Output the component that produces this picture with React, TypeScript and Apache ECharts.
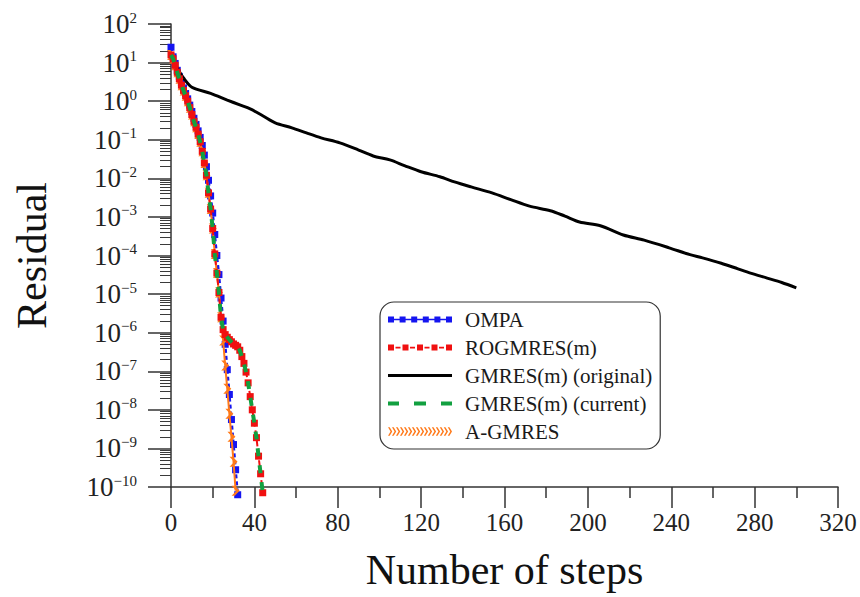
import React, { useEffect, useRef } from "react";
import * as echarts from "echarts";

const SERIF = "'Liberation Serif', 'Times New Roman', serif";

const seriesNames = ["OMPA", "ROGMRES(m)", "GMRES(m) (original)", "GMRES(m) (current)", "A-GMRES"];

const xTickValues = [0, 40, 80, 120, 160, 200, 240, 280, 320];

// residual per step (step index = array index)
const ompaValues = [
  25, 14.1, 9.5, 6.3, 4.4, 3.0, 2.2, 1.58, 1.15, 0.79, 0.54, 0.36, 0.25, 0.17, 0.115, 0.071,
  0.04, 0.02, 0.0089, 0.0035, 0.00126, 3.5e-4, 1.0e-4, 3.2e-5, 7.9e-6, 2.0e-6, 5.0e-7, 1.1e-7,
  2.5e-8, 5.6e-9, 1.26e-9, 2.8e-10, 6.3e-11,
];

const aGmresValues = [
  15.8, 12.6, 8.5, 5.6, 3.8, 2.6, 1.9, 1.38, 1.0, 0.68, 0.45, 0.3, 0.21, 0.14, 0.089, 0.05,
  0.025, 0.012, 0.0042, 0.0016, 5.0e-4, 1.1e-4, 3.5e-5, 1.1e-5, 2.5e-6, 6.3e-7, 1.4e-7, 3.5e-8,
  7.9e-9, 2.0e-9, 4.5e-10, 8.0e-11,
];

const rogmresValues = [
  15.8, 12.6, 8.5, 5.6, 3.8, 2.6, 1.9, 1.38, 1.0, 0.68, 0.45, 0.3, 0.21, 0.14, 0.089, 0.05,
  0.025, 0.012, 0.0042, 0.0016, 5.0e-4, 1.1e-4, 3.5e-5, 1.1e-5, 2.5e-6, 1.2e-6, 8.9e-7, 7.6e-7,
  6.6e-7, 5.8e-7, 5.1e-7, 4.7e-7, 4.3e-7, 3.5e-7, 2.4e-7, 1.6e-7, 9.5e-8, 5.0e-8, 2.2e-8, 1.0e-8,
  4.5e-9, 1.9e-9, 6.3e-10, 2.2e-10, 7.1e-11,
];

const gmresCurrentValues = [
  15.8, 12.6, 8.5, 5.6, 3.8, 2.6, 1.9, 1.38, 1.0, 0.68, 0.45, 0.3, 0.21, 0.14, 0.089, 0.05,
  0.025, 0.012, 0.0042, 0.0016, 5.0e-4, 1.1e-4, 3.5e-5, 1.1e-5, 2.5e-6, 1.2e-6, 8.9e-7, 7.6e-7,
  6.6e-7, 5.8e-7, 5.1e-7, 4.7e-7, 4.3e-7, 3.5e-7, 2.4e-7, 1.6e-7, 9.5e-8, 5.0e-8, 2.2e-8, 1.0e-8,
  4.5e-9, 1.9e-9, 6.3e-10, 2.2e-10, 7.1e-11,
];

// GMRES(m) original: sampled steps and residuals
const gmresOrigSteps = [
  0, 2, 6, 10, 19, 27, 33, 38, 44, 50, 58, 65, 72, 81, 90, 97, 105, 112, 120, 129, 136, 144,
  154, 163, 172, 182, 189, 196, 206, 217, 227, 239, 249, 255, 264, 272, 278, 286, 293, 300,
];
const gmresOrigValues = [
  11.2, 8.7, 4.0, 2.3, 1.6, 1.07, 0.8, 0.63, 0.42, 0.275, 0.204, 0.15, 0.112, 0.083, 0.054,
  0.038, 0.03, 0.0214, 0.0148, 0.011, 0.0081, 0.006, 0.0042, 0.0028, 0.0019, 0.00145, 0.00105,
  7.4e-4, 5.9e-4, 3.4e-4, 2.5e-4, 1.58e-4, 1.05e-4, 8.7e-5, 6.3e-5, 4.5e-5, 3.5e-5, 2.6e-5,
  2.0e-5, 1.45e-5,
];

const yMinorMultipliers = [2, 3, 4, 5, 6, 7, 8, 9];
const yDecades = [-10, -9, -8, -7, -6, -5, -4, -3, -2, -1, 0, 1];

const COLORS = {
  ompa: "#1515f0",
  rog: "#f01010",
  orig: "#000000",
  cur: "#12a040",
  agm: "#ff7a1a",
};

const GRID = { left: 171, right: 22, top: 24, bottom: 110 };
const CHART_W = 860;
const MINOR_TICK_PX = 11;

function squaresPath(): string {
  let d = "M0 6.3 H64 V7.7 H0 Z";
  [0, 11.6, 23.2, 34.8, 46.4, 58].forEach((x) => {
    d += ` M${x} 4 h6 v6 h-6 Z`;
  });
  return "path://" + d;
}
function redPath(): string {
  let d = "";
  [0, 14.5, 29, 43.5, 58].forEach((x) => {
    d += ` M${x} 4 h6 v6 h-6 Z`;
  });
  [7.5, 22, 36.5, 51].forEach((x) => {
    d += ` M${x} 6.2 h5 v1.8 h-5 Z`;
  });
  return "path://" + d.trim();
}
function chevronPath(): string {
  let d = "";
  for (let i = 0; i < 16; i++) {
    const x = i * 3.75;
    d += ` M${x} 1 L${x + 1.6} 1 L${x + 4} 5 L${x + 1.6} 9 L${x} 9 L${x + 2.4} 5 Z`;
  }
  return "path://" + d.trim();
}

const chevronSymbol = "path://M0 0 L4 0 L10 6 L4 12 L0 12 L6 6 Z";

export default function App() {
  const ref = useRef<HTMLDivElement>(null);

  useEffect(() => {
    if (!ref.current) return;
    const chart = echarts.init(ref.current, undefined, { renderer: "svg" });

    const expFmt = (v: number) => {
      const e = Math.round(Math.log10(v));
      const s = e < 0 ? "\u2212" + String(-e) : String(e);
      return `{b|10}{s|${s}}`;
    };

    const xMin = xTickValues[0];
    const xMax = xTickValues[xTickValues.length - 1];
    const plotW = CHART_W - GRID.left - GRID.right;
    const tickLenData = (MINOR_TICK_PX * (xMax - xMin)) / plotW;

    const minorValues: number[] = [];
    yDecades.forEach((e) => {
      yMinorMultipliers.forEach((m) => {
        minorValues.push(m * Math.pow(10, e));
      });
    });
    const minorTickMarkLines = minorValues.map((v) => [
      { coord: [xMin - tickLenData, v] },
      { coord: [xMin, v] },
    ]);

    const option: any = {
      animation: false,
      grid: { ...GRID, containLabel: false },
      legend: {
        orient: "vertical",
        left: 380,
        top: 302,
        padding: [6, 8, 6, 8],
        itemGap: 5,
        itemWidth: 64,
        itemHeight: 14,
        symbolKeepAspect: true,
        borderColor: "#333",
        borderWidth: 1.2,
        borderRadius: 14,
        backgroundColor: "#fff",
        textStyle: {
          fontFamily: SERIF,
          fontSize: 21,
          color: "#1a1a1a",
          lineHeight: 23,
          padding: [0, 0, 0, 8],
        },
        data: [
          { name: seriesNames[0], icon: squaresPath(), itemStyle: { color: COLORS.ompa, borderWidth: 0 } },
          { name: seriesNames[1], icon: redPath(), itemStyle: { color: COLORS.rog, borderWidth: 0 } },
          { name: seriesNames[2], icon: "path://M0 0 H64 V3 H0 Z", itemStyle: { color: COLORS.orig, borderWidth: 0 } },
          {
            name: seriesNames[3],
            icon: "path://M0 0 H11 V4 H0 Z M26 0 H38 V4 H26 Z M53 0 H64 V4 H53 Z",
            itemStyle: { color: COLORS.cur, borderWidth: 0 },
          },
          { name: seriesNames[4], icon: chevronPath(), itemStyle: { color: COLORS.agm, borderWidth: 0 } },
        ],
      },
      xAxis: {
        type: "value",
        min: xMin,
        max: xMax,
        interval: 40,
        name: "Number of steps",
        nameLocation: "middle",
        nameGap: 62,
        nameTextStyle: { fontFamily: SERIF, fontSize: 42, color: "#111" },
        axisLine: { show: true, lineStyle: { color: "#333", width: 1.5 } },
        axisTick: { show: true, inside: false, length: 21, lineStyle: { color: "#333", width: 1.5 } },
        minorTick: { show: true, splitNumber: 2, length: 11, lineStyle: { color: "#333", width: 1.5 } },
        splitLine: { show: false },
        axisLabel: { fontFamily: SERIF, fontSize: 25, color: "#222", margin: 23 },
      },
      yAxis: [
        {
          type: "log",
          logBase: 10,
          min: 1e-10,
          max: 100,
          interval: 1,
          name: "Residual",
          nameLocation: "middle",
          nameGap: 118,
          nameTextStyle: { fontFamily: SERIF, fontSize: 42, color: "#111" },
          axisLine: { show: true, lineStyle: { color: "#333", width: 1.5 } },
          axisTick: { show: true, inside: false, length: 23, lineStyle: { color: "#333", width: 1.5 } },
          splitLine: { show: false },
          axisLabel: {
            margin: 34,
            formatter: expFmt,
            rich: {
              b: { fontFamily: SERIF, fontSize: 27, color: "#222", lineHeight: 28 },
              s: { fontFamily: SERIF, fontSize: 15, color: "#222", lineHeight: 15, verticalAlign: "top" },
            },
          },
        },
        {
          type: "log",
          logBase: 10,
          min: 1e-10,
          max: 100,
          position: "left",
          offset: 0,
          axisLine: { show: false },
          axisLabel: { show: false },
          splitLine: { show: false },
          axisTick: {
            show: true,
            inside: false,
            length: MINOR_TICK_PX,
            customValues: minorValues,
            lineStyle: { color: "#3a3a3a", width: 1 },
          },
        },
      ],
      series: [
        {
          type: "line",
          name: seriesNames[0],
          data: ompaValues.map((v, i) => [i, v]),
          clip: false,
          symbol: "rect",
          symbolSize: 7,
          itemStyle: { color: COLORS.ompa },
          lineStyle: { color: COLORS.ompa, width: 2.5, type: [4, 3] },
          markLine: {
            silent: true,
            animation: false,
            symbol: ["none", "none"],
            label: { show: false },
            emphasis: { disabled: true },
            lineStyle: { color: "#3a3a3a", width: 1, type: "solid" },
            data: minorTickMarkLines,
          },
          z: 2,
        },
        {
          type: "line",
          name: seriesNames[2],
          data: gmresOrigSteps.map((s, i) => [s, gmresOrigValues[i]]),
          clip: false,
          smooth: 0.3,
          showSymbol: false,
          symbol: "none",
          itemStyle: { color: COLORS.orig },
          lineStyle: { color: COLORS.orig, width: 3 },
          z: 3,
        },
        {
          type: "line",
          name: seriesNames[4],
          data: aGmresValues.map((v, i) => [i, v]),
          clip: false,
          symbol: chevronSymbol,
          symbolSize: [8, 10],
          itemStyle: { color: COLORS.agm },
          lineStyle: { color: COLORS.agm, width: 2 },
          z: 4,
        },
        {
          type: "line",
          name: seriesNames[1],
          data: rogmresValues.map((v, i) => [i, v]),
          clip: false,
          symbol: "rect",
          symbolSize: 7,
          itemStyle: { color: COLORS.rog },
          lineStyle: { color: COLORS.rog, width: 2, type: [6, 4] },
          z: 5,
        },
        {
          type: "line",
          name: seriesNames[3],
          data: gmresCurrentValues.map((v, i) => [i, v]),
          clip: false,
          symbol: "none",
          showSymbol: false,
          itemStyle: { color: COLORS.cur },
          lineStyle: { color: COLORS.cur, width: 4, type: [8, 9] },
          z: 6,
        },
      ],
    };

    chart.setOption(option);
    return () => chart.dispose();
  }, []);

  return (
    <div
      ref={ref}
      style={{ position: "fixed", left: 0, top: 0, width: 860, height: 597, background: "#fff" }}
    />
  );
}
